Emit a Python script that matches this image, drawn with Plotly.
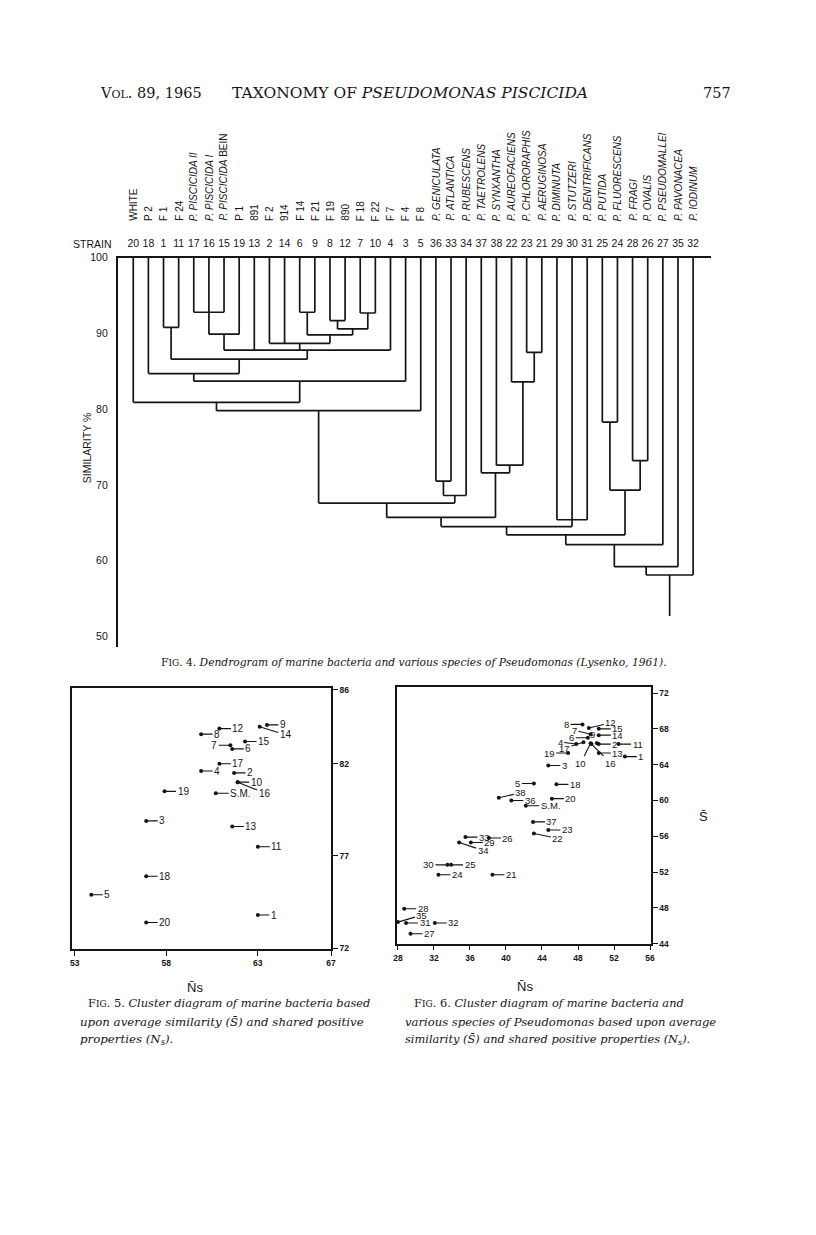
import plotly.graph_objects as go

W, H = 816, 1235

# ---- Fig. 4 dendrogram data ----
leaf_strains = [20, 18, 1, 11, 17, 16, 15, 19, 13, 2, 14, 6, 9, 8, 12, 7, 10, 4, 3, 5,
                36, 33, 34, 37, 38, 22, 23, 21, 29, 30, 31, 25, 24, 28, 26, 27, 35, 32]
leaf_names = ["WHITE", "P 2", "F 1", "F 24", "<i>P. PISCICIDA II</i>", "<i>P. PISCICIDA I</i>",
              "<i>P. PISCICIDA</i> BEIN", "P 1", "891", "F 2", "914", "F 14", "F 21", "F 19",
              "890", "F 18", "F 22", "F 7", "F 4", "F 8",
              "<i>P. GENICULATA</i>", "<i>P. ATLANTICA</i>", "<i>P. RUBESCENS</i>",
              "<i>P. TAETROLENS</i>", "<i>P. SYNXANTHA</i>", "<i>P. AUREOFACIENS</i>",
              "<i>P. CHLORORAPHIS</i>", "<i>P. AERUGINOSA</i>", "<i>P. DIMINUTA</i>",
              "<i>P. STUTZERI</i>", "<i>P. DENITRIFICANS</i>", "<i>P. PUTIDA</i>",
              "<i>P. FLUORESCENS</i>", "<i>P. FRAGI</i>", "<i>P. OVALIS</i>",
              "<i>P. PSEUDOMALLEI</i>", "<i>P. PAVONACEA</i>", "<i>P. IODINUM</i>"]

# (children, similarity %) -- merge k is referred to later as "m{k}"
merges = [
    ([1, 11], 90.8),
    ([17, 16, 15], 92.8),
    (["m1", 19], 89.9),
    ([6, 9], 92.8),
    ([8, 12], 91.7),
    ([7, 10], 92.7),
    (["m4", "m5"], 90.6),
    (["m3", "m6"], 89.8),
    ([2, 14, "m7"], 88.7),
    (["m2", 13, "m8", 4], 87.8),
    (["m0", "m9"], 86.6),
    ([18, "m10"], 84.7),
    (["m11", 3], 83.7),
    ([20, "m12"], 80.9),
    (["m13", 5], 79.8),
    ([36, 33], 70.5),
    (["m15", 34], 68.6),
    ([23, 21], 87.5),
    ([22, "m17"], 83.6),
    ([38, "m18"], 72.6),
    ([37, "m19"], 71.6),
    ([25, 24], 78.3),
    ([28, 26], 73.2),
    (["m21", "m22"], 69.3),
    (["m14", "m16"], 67.6),
    (["m24", "m20"], 65.7),
    ([29, 30, 31], 65.4),
    (["m25", "m26"], 64.5),
    (["m27", "m23"], 63.4),
    (["m28", 27], 62.1),
    (["m29", 35], 59.2),
    (["m30", 32], 58.1),
]
root_end = 52.7
sim_ticks = [50, 60, 70, 80, 90, 100]

# ---- Fig. 5 data (marine bacteria) ----
names5 = ["9", "14", "12", "8", "15", "7", "6", "17", "4", "2", "10", "16", "19", "S.M.",
          "3", "13", "11", "18", "5", "1", "20"]
ns5 = [63.5, 63.1, 60.9, 59.9, 62.3, 61.5, 61.6, 60.9, 59.9, 61.7, 61.9, 61.9, 57.9, 60.7,
       56.9, 61.6, 63.0, 56.9, 53.9, 63.0, 56.9]
s5 = [84.1, 84.0, 83.9, 83.6, 83.2, 83.0, 82.8, 82.0, 81.6, 81.5, 81.0, 81.0, 80.5, 80.4,
      78.9, 78.6, 77.5, 75.9, 74.9, 73.8, 73.4]
x5_ticks = [53, 58, 63, 67]
y5_ticks = [72, 77, 82, 86]

# ---- Fig. 6 data (marine bacteria + Pseudomonas) ----
names6 = ["8", "12", "15", "7", "14", "6", "9", "2", "11", "4", "17", "10", "16", "19", "13",
          "1", "3", "5", "18", "38", "20", "36", "S.M.", "37", "23", "22", "33", "26", "29",
          "34", "30", "25", "24", "21", "28", "35", "31", "32", "27"]
ns6 = [48.5, 49.2, 50.3, 49.4, 50.3, 49.1, 50.1, 50.3, 52.5, 47.8, 48.6, 49.4, 49.5, 46.9,
       50.3, 53.2, 44.7, 43.1, 45.6, 39.2, 45.1, 40.6, 42.2, 43.0, 44.7, 43.1, 35.5, 38.1,
       36.1, 34.8, 33.5, 33.9, 32.5, 38.5, 28.7, 28.0, 28.9, 32.1, 29.4]
s6 = [68.5, 68.1, 68.0, 67.4, 67.3, 67.0, 66.4, 66.3, 66.3, 66.3, 66.5, 66.4, 66.3, 65.3,
      65.3, 64.9, 63.9, 61.9, 61.8, 60.3, 60.2, 60.0, 59.4, 57.6, 56.7, 56.3, 55.9, 55.8,
      55.3, 55.3, 52.8, 52.8, 51.7, 51.7, 47.9, 46.4, 46.3, 46.3, 45.1]
x6_ticks = [28, 32, 36, 40, 44, 48, 52, 56]
y6_ticks = [44, 48, 52, 56, 60, 64, 68, 72]

# label placement tweaks (pixel offsets of label from point)
LEFT = -1
place5 = {"7": (LEFT, 0), "14": (26, 8), "16": (27, 11)}
place6 = {"8": (LEFT, 0), "7": (LEFT, -4), "6": (LEFT, 0), "4": (LEFT, -2), "17": (LEFT, 6),
          "19": (LEFT, 0), "5": (LEFT, 0), "30": (LEFT, 0), "12": (22, -5), "9": (-4, -9),
          "10": (-10, 20), "16": (1, 19), "38": (22, -5), "22": (24, 5), "34": (24, 8),
          "35": (24, -7)}

INK = "#151515"
SANS = "Liberation Sans"
SERIF = "DejaVu Serif"


def px(x):
    return x / W


def py(y):
    return 1 - y / H


# ---- dendrogram segments ----
pos = {s: i for i, s in enumerate(leaf_strains)}
top = {s: 100.0 for s in leaf_strains}
dx, dy = [], []
for k, (kids, sim) in enumerate(merges):
    kx = [pos[c] for c in kids]
    for c in kids:
        dx += [pos[c], pos[c], None]
        dy += [top[c], sim, None]
    dx += [min(kx), max(kx), None]
    dy += [sim, sim, None]
    pos[f"m{k}"] = (min(kx) + max(kx)) / 2
    top[f"m{k}"] = sim
last = f"m{len(merges) - 1}"
dx += [pos[last], pos[last]]
dy += [top[last], root_end]

fig = go.Figure()
fig.add_trace(go.Scatter(x=dx, y=dy, mode="lines", line=dict(color=INK, width=1.7),
                         xaxis="x", yaxis="y", hoverinfo="skip"))
fig.add_trace(go.Scatter(x=ns5, y=s5, mode="markers", marker=dict(color=INK, size=4),
                         xaxis="x3", yaxis="y3", cliponaxis=False))
fig.add_trace(go.Scatter(x=ns6, y=s6, mode="markers", marker=dict(color=INK, size=4),
                         xaxis="x4", yaxis="y4", cliponaxis=False))

annotations = []

# species / strain names over the dendrogram
for i, name in enumerate(leaf_names):
    annotations.append(dict(x=i, y=py(219), xref="x", yref="paper", text=name,
                            textangle=-90, showarrow=False, xanchor="center",
                            yanchor="bottom", font=dict(family=SANS, size=10, color=INK)))


def point_labels(names, xs, ys, xref, yref, place, size):
    for n, x, y in zip(names, xs, ys):
        ax, ay = place.get(n, (1, 0))
        if ax in (1, LEFT):
            ax = ax * (13 + 3 * len(n))
        annotations.append(dict(x=x, y=y, xref=xref, yref=yref, text=n, showarrow=True,
                                arrowhead=0, arrowwidth=1.1, arrowcolor=INK, ax=ax, ay=ay,
                                standoff=0, font=dict(family=SANS, size=size, color=INK)))


point_labels(names5, ns5, s5, "x3", "y3", place5, 10)
point_labels(names6, ns6, s6, "x4", "y4", place6, 9.5)

sc = "font-size:11px"
texts = [
    (95, 88, f"V<span style='{sc}'>OL</span>. 89, 1965", "left", 14.5, SERIF),
    (411, 88, "TAXONOMY OF <i>PSEUDOMONAS PISCICIDA</i>", "center", 15.5, SERIF),
    (737, 88, "757", "right", 14.5, SERIF),
    (111, 240, "STRAIN", "right", 10.5, SANS),
    (157, 662, "F<span style='font-size:9px'>IG</span>. 4. <i>Dendrogram of marine bacteria "
               "and various species of Pseudomonas (Lysenko, 1961).</i>", "left", 10.7, SERIF),
    (83, 1004, "F<span style='font-size:9px'>IG</span>. 5. <i>Cluster diagram of marine "
               "bacteria based</i>", "left", 11.4, SERIF),
    (75, 1023, "<i>upon average similarity (S̄) and shared positive</i>", "left", 11.8, SERIF),
    (75, 1041, "<i>properties (N<sub>s</sub>).</i>", "left", 11.8, SERIF),
    (413, 1004, "F<span style='font-size:9px'>IG</span>. 6. <i>Cluster diagram of marine "
                "bacteria and</i>", "left", 11.4, SERIF),
    (403, 1023, "<i>various species of Pseudomonas based upon average</i>", "left", 11.6, SERIF),
    (403, 1041, "<i>similarity (S̄) and shared positive properties (N<sub>s</sub>).</i>",
     "left", 11.4, SERIF),
    (193, 990, "N̄s", "center", 13, SANS),
    (527, 989, "N̄s", "center", 13, SANS),
    (707, 818, "S̄", "center", 13, SANS),
]
for x, y, t, anchor, size, fam in texts:
    annotations.append(dict(x=px(x), y=py(y + 2 if y > 990 else y), xref="paper", yref="paper",
                            text=t, showarrow=False, xanchor=anchor, yanchor="middle",
                            font=dict(family=fam, size=size, color=INK)))
annotations.append(dict(x=px(76), y=py(446), xref="paper", yref="paper", text="SIMILARITY %",
                        textangle=-90, showarrow=False,
                        font=dict(family=SANS, size=10.5, color=INK)))

frame = dict(showline=True, linecolor=INK, linewidth=1.5, showgrid=False, zeroline=False,
             mirror=True, ticks="outside", ticklen=5, tickwidth=1.2, tickcolor=INK,
             tickfont=dict(family=SANS, size=8.5, color=INK, weight="bold"))

fig.update_layout(
    width=W, height=H, margin=dict(l=0, r=0, t=0, b=0), autosize=False,
    paper_bgcolor="white", plot_bgcolor="rgba(0,0,0,0)", showlegend=False,
    annotations=annotations,
    xaxis=dict(domain=[px(115), px(715)], range=[-1.026, 38.19], anchor="y", side="top",
               showline=True, linecolor=INK, linewidth=1.7, showgrid=False, zeroline=False,
               tickvals=list(range(len(leaf_strains))), ticktext=[str(s) for s in leaf_strains],
               ticks="", ticklabelstandoff=5,
               tickfont=dict(family=SANS, size=10.5, color=INK)),
    yaxis=dict(domain=[py(647), py(254)], range=[48.56, 100], anchor="x",
               showline=True, linecolor=INK, linewidth=1.7, showgrid=False, zeroline=False,
               tickvals=sim_ticks, ticks="", ticklabelstandoff=6,
               tickfont=dict(family=SANS, size=10.5, color=INK)),
    xaxis3=dict(domain=[px(68.3), px(330.7)], range=[52.82, 67], anchor="y3",
                tickvals=x5_ticks, **frame),
    yaxis3=dict(domain=[py(951.7), py(688.3)], range=[71.95, 86.09], anchor="x3",
                side="right", tickvals=y5_ticks, **frame),
    xaxis4=dict(domain=[px(397.3), px(654)], range=[27.89, 56.08], anchor="y4",
                tickvals=x6_ticks, **frame),
    yaxis4=dict(domain=[py(946), py(687.3)], range=[44, 72.66], anchor="x4",
                side="right", tickvals=y6_ticks, **frame),
)

fig.write_html("out.html", config={"displayModeBar": False},
               post_script="document.body.style.margin='0';"
                           "document.body.style.overflow='hidden';")
